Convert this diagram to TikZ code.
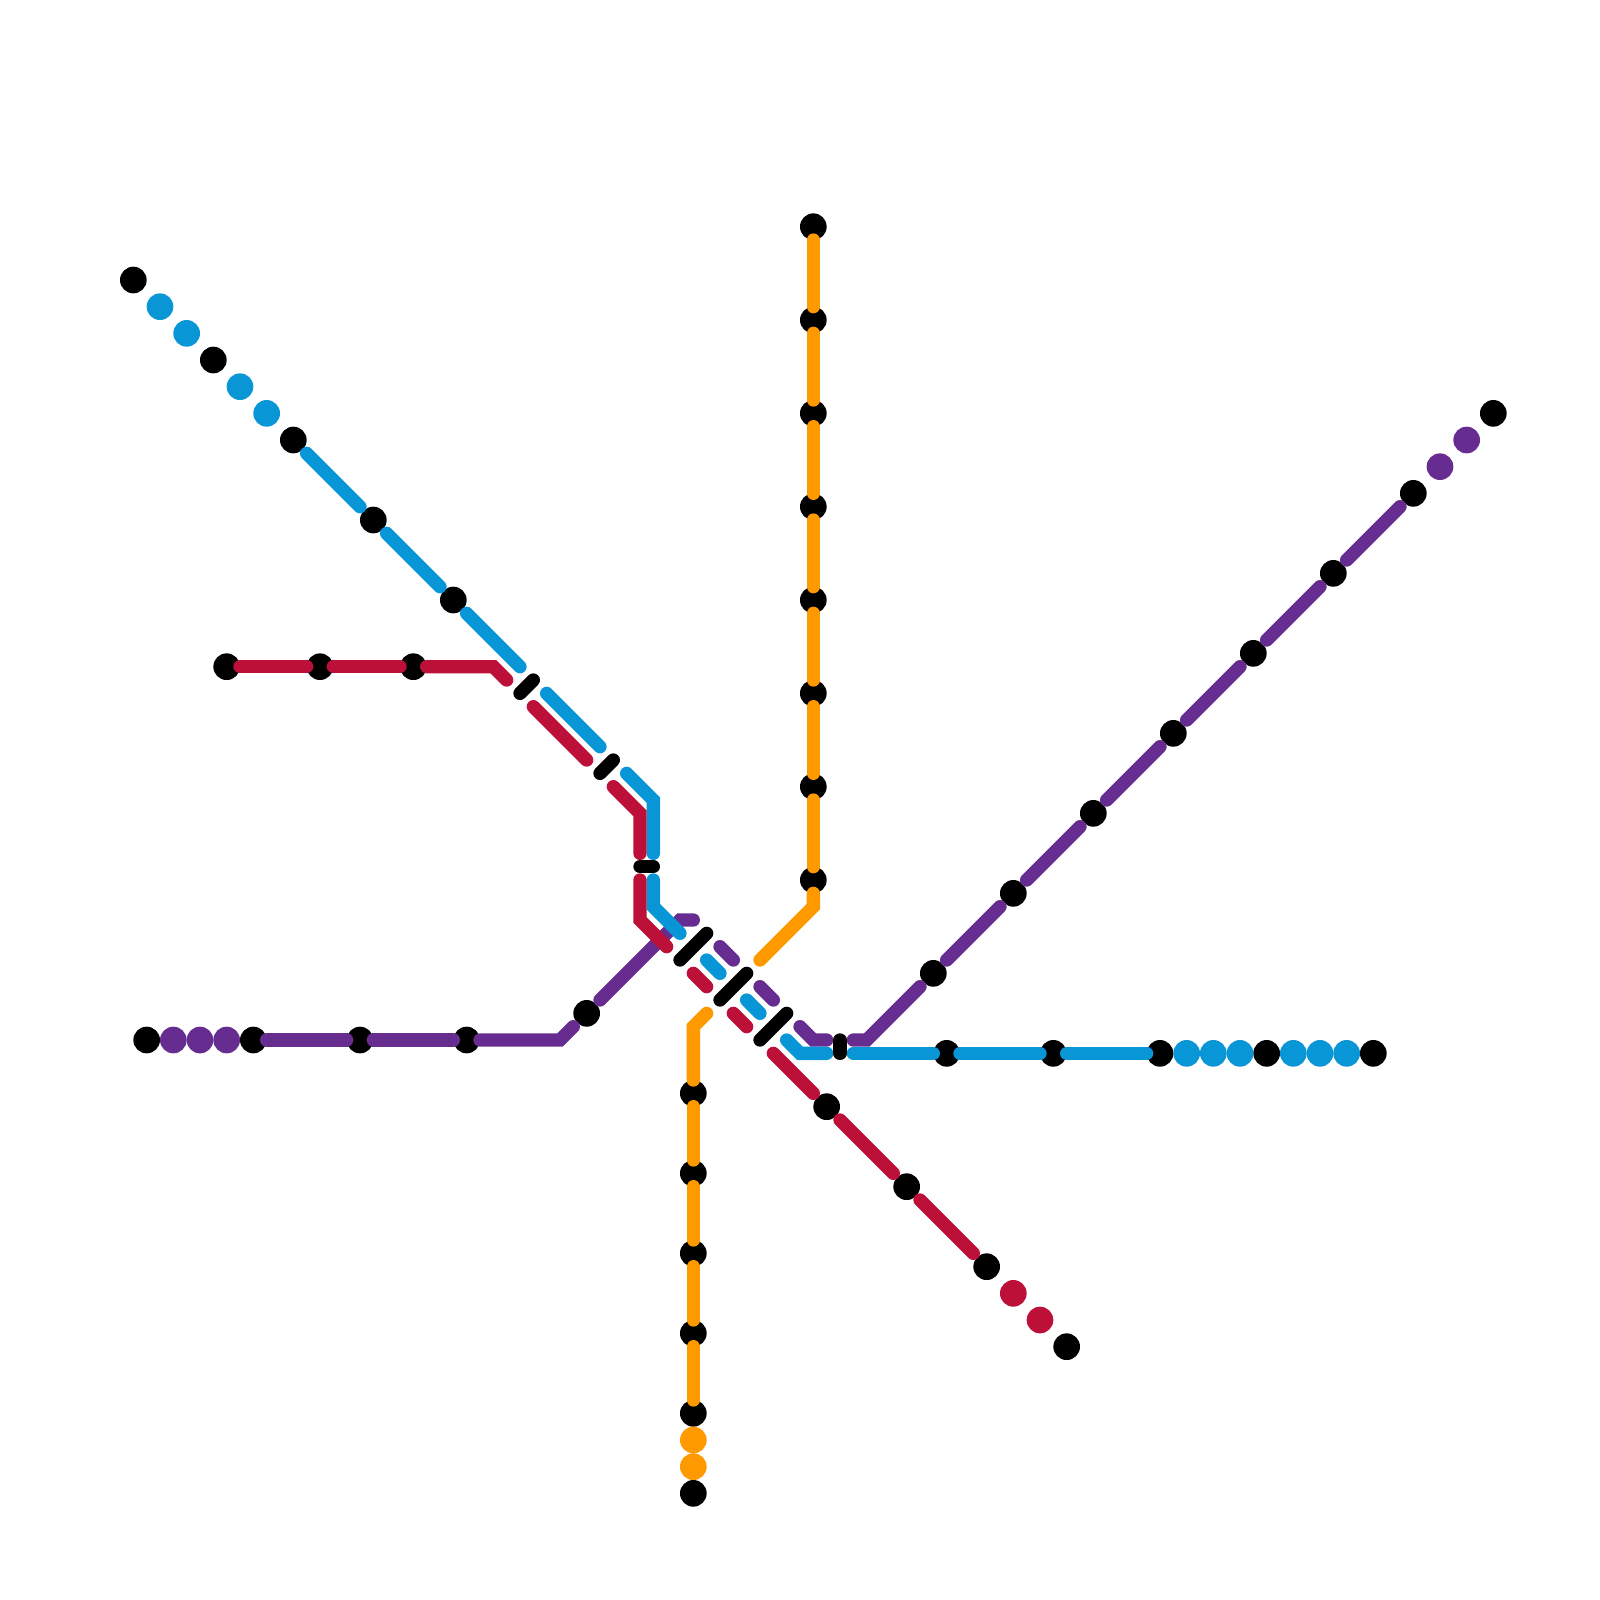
\documentclass[tikz,border=0pt]{standalone}
\definecolor{mred}{HTML}{BD1038}
\definecolor{mblue}{HTML}{0896D7}
\definecolor{mpurple}{HTML}{662C90}
\definecolor{morange}{HTML}{FF9900}
\tikzset{
  stn/.style={circle,inner sep=0pt,minimum size=2mm,draw=none},
  seg/.style={line width=1mm,line cap=round},
}
\begin{document}
\begin{tikzpicture}[x=1mm,y=-1mm]
\useasboundingbox (0,0) rectangle (120,120);
% stations
\foreach \c/\l in {
 black/{10/21,16/27,22/33,28/39,34/45},
 mblue/{12/23,14/25,18/29,20/31},
 black/{17/50,24/50,31/50},
 black/{62/83,68/89,74/95,80/101},
 mred/{76/97,78/99},
 black/{71/79,79/79,87/79,95/79,103/79},
 mblue/{89/79,91/79,93/79,97/79,99/79,101/79},
 black/{11/78,19/78,27/78,35/78,44/76},
 mpurple/{13/78,15/78,17/78},
 black/{70/73,76/67,82/61,88/55,94/49,100/43,106/37,112/31},
 mpurple/{108/35,110/33},
 black/{61/17,61/24,61/31,61/38,61/45,61/52,61/59,61/66},
 black/{52/82,52/88,52/94,52/100,52/106,52/112},
 morange/{52/108,52/110}}{
  \foreach \x/\y in \l {
    \node[stn,fill=\c] (s\x-\y) at (\x,\y) {};
  }
}
% purple
\begin{scope}[seg,draw=mpurple]
\draw (20,78)--(26,78);
\draw (28,78)--(34,78);
\draw (36,78)--(42,78)--(43,77);
\draw (45,75)--(51,69)--(52,69);
\draw (54,71)--(55,72);
\draw (57,74)--(58,75);
\draw (60,77)--(61,78)--(62,78);
\draw (64,78)--(65,78)--(69,74);
\draw (71,72)--(75,68);
\draw (77,66)--(81,62);
\draw (83,60)--(87,56);
\draw (89,54)--(93,50);
\draw (95,48)--(99,44);
\draw (101,42)--(105,38);
\end{scope}
% blue
\begin{scope}[seg,draw=mblue]
\draw (23,34)--(27,38);
\draw (29,40)--(33,44);
\draw (35,46)--(39,50);
\draw (41,52)--(45,56);
\draw (47,58)--(49,60)--(49,64);
\draw (49,66)--(49,68)--(51,70);
\draw (53,72)--(54,73);
\draw (56,75)--(57,76);
\draw (59,78)--(60,79)--(62,79);
\draw (64,79)--(70,79);
\draw (72,79)--(78,79);
\draw (80,79)--(86,79);
\end{scope}
% red
\begin{scope}[seg,draw=mred]
\draw (18,50)--(23,50);
\draw (25,50)--(30,50);
\draw (32,50)--(37,50)--(38,51);
\draw (40,53)--(44,57);
\draw (46,59)--(48,61)--(48,64);
\draw (48,66)--(48,69)--(50,71);
\draw (52,73)--(53,74);
\draw (55,76)--(56,77);
\draw (58,79)--(61,82);
\draw (63,84)--(67,88);
\draw (69,90)--(73,94);
\end{scope}
% orange
\begin{scope}[seg,draw=morange]
\draw (61,18)--(61,23);
\draw (61,25)--(61,30);
\draw (61,32)--(61,37);
\draw (61,39)--(61,44);
\draw (61,46)--(61,51);
\draw (61,53)--(61,58);
\draw (61,60)--(61,65);
\draw (61,67)--(61,68)--(57,72);
\draw (53,76)--(52,77)--(52,81);
\draw (52,83)--(52,87);
\draw (52,89)--(52,93);
\draw (52,95)--(52,99);
\draw (52,101)--(52,105);
\end{scope}
% black interchanges
\begin{scope}[seg,draw=black]
\draw (39,52)--(40,51);
\draw (45,58)--(46,57);
\draw (48,65)--(49,65);
\draw (51,72)--(53,70);
\draw (54,75)--(56,73);
\draw (57,78)--(59,76);
\draw (63,78)--(63,79);
\end{scope}
\end{tikzpicture}
\end{document}
